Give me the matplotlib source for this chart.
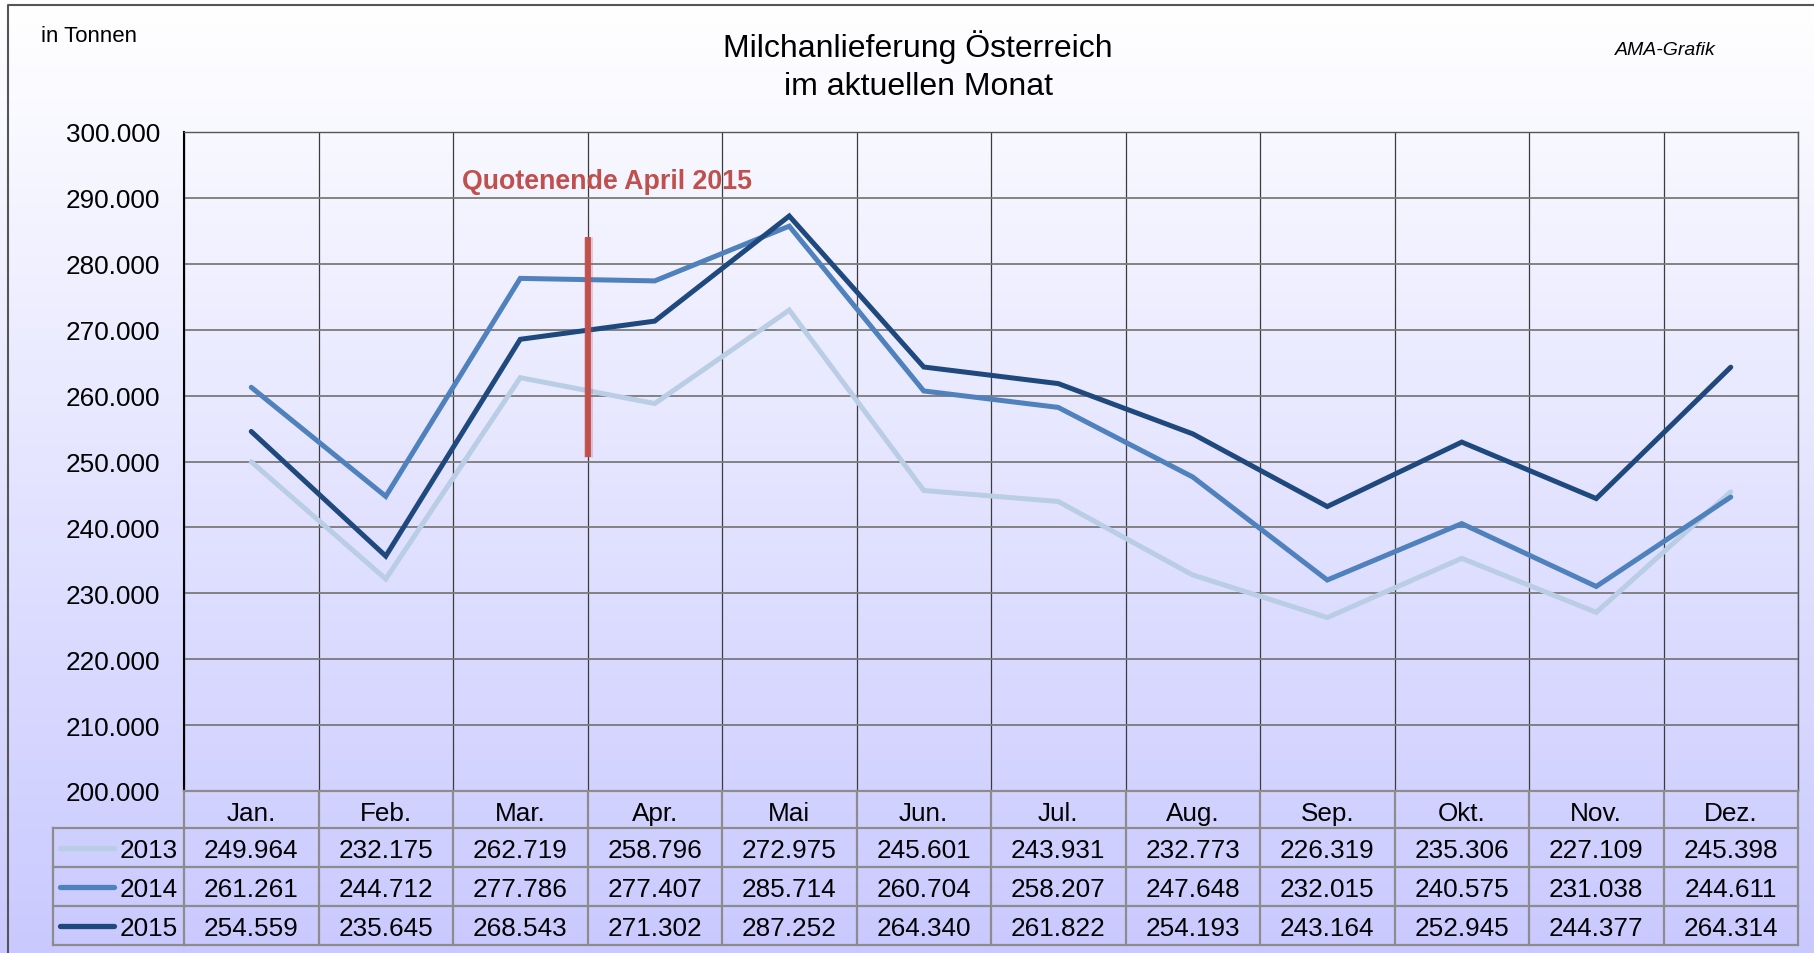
import numpy as np
import matplotlib
matplotlib.use("Agg")
import matplotlib.pyplot as plt
from matplotlib.colors import LinearSegmentedColormap
from matplotlib.transforms import blended_transform_factory

# ---------------- data ----------------
months = ["Jan.", "Feb.", "Mar.", "Apr.", "Mai", "Jun.", "Jul.", "Aug.",
          "Sep.", "Okt.", "Nov.", "Dez."]
years = ["2013", "2014", "2015"]
v2013 = [249964, 232175, 262719, 258796, 272975, 245601, 243931, 232773,
         226319, 235306, 227109, 245398]
v2014 = [261261, 244712, 277786, 277407, 285714, 260704, 258207, 247648,
         232015, 240575, 231038, 244611]
v2015 = [254559, 235645, 268543, 271302, 287252, 264340, 261822, 254193,
         243164, 252945, 244377, 264314]
yticks = list(range(200000, 300001, 10000))
quota_label = "Quotenende April 2015"
quota_range = [250700, 284000]
title1 = "Milchanlieferung Österreich"
title2 = "im aktuellen Monat"
unit_label = "in Tonnen"
source_label = "AMA-Grafik"

series = [v2013, v2014, v2015]
colors = ["#B9CDE5", "#4F81BD", "#1F497D"]


def de(v):
    return f"{v:,}".replace(",", ".")


plt.rcParams["font.family"] = ["Liberation Sans", "DejaVu Sans"]

W, H = 1814, 954
fig = plt.figure(figsize=(W / 100, H / 100), dpi=100)

# background gradient
bg = fig.add_axes([0, 0, 1, 1], zorder=0)
bg.set_xlim(0, W)
bg.set_ylim(H, 0)
bg.axis("off")
cmap = LinearSegmentedColormap.from_list(
    "g", [(0, "#FFFFFF"), (0.05, "#FDFDFF"), (1, "#C9C9FF")])
grad = np.linspace(0, 1, 256)[:, None]
bg.imshow(grad, extent=[0, W, H, 0], cmap=cmap, aspect="auto")
bg.plot([8, 8, W + 5], [H + 5, 6, 6], color="#555555", lw=1.5)

# main axes
ax = fig.add_axes([184 / W, 1 - 792 / H, 1614 / W, 659 / H], zorder=2)
ax.patch.set_alpha(0)
x = np.arange(len(months))
ax.set_xlim(-0.5, len(months) - 0.5)
ax.set_ylim(yticks[0], yticks[-1])
ax.set_yticks(yticks)
ax.set_yticklabels([de(t) for t in yticks])
ax.set_xticks(np.arange(-0.5, len(months), 1))
ax.set_xticklabels([])
ax.tick_params(length=0)
ax.tick_params(axis="y", labelsize=18.8, pad=17.3)
ax.yaxis.grid(True, color="#7a7a7a", lw=1.3)
ax.xaxis.grid(True, color="#3c3c3c", lw=0.9)
ax.set_axisbelow(True)
ax.spines["left"].set_color("black")
ax.spines["left"].set_linewidth(1.5)
for s in ["top", "right"]:
    ax.spines[s].set_color("#555555")
    ax.spines[s].set_linewidth(1.0)
ax.spines["bottom"].set_visible(False)

for vals, c in zip(series, colors):
    ax.plot(x, vals, color=c, lw=3.6, solid_capstyle="round",
            solid_joinstyle="miter", zorder=3)

ax.plot([2.5, 2.5], quota_range, color="#C0504D", lw=6.5, alpha=0.25,
        zorder=4, solid_capstyle="butt")
ax.plot([2.5, 2.5], quota_range, color="#C0504D", lw=4.2, zorder=4,
        solid_capstyle="butt")
ax.text(1.57, 292600, quota_label, color="#C0504D", fontsize=19.3,
        fontweight="bold", va="center", ha="left", zorder=5)

# overlay (pixel coordinates) for texts and table
ov = fig.add_axes([0, 0, 1, 1], zorder=3)
ov.set_xlim(0, W)
ov.set_ylim(H, 0)
ov.axis("off")
ov.patch.set_alpha(0)

ov.text(41, 41.5, unit_label, fontsize=16, va="baseline", ha="left")
ov.text(918, 57, title1, fontsize=23, va="baseline", ha="center")
ov.text(918, 95, title2, fontsize=23, va="baseline", ha="center")
ov.text(1615, 55, source_label, fontsize=14, style="italic",
        va="baseline", ha="left")

# table: columns follow the chart's category scale
tr = blended_transform_factory(ax.transData, ov.transData)
rows = [792, 829, 868, 907, 946]
gcol = "#8c8c8c"
glw = 1.6
x0, x1 = -0.5, len(months) - 0.5
leg_left = 53

# horizontal lines
ov.plot([x0, x1], [rows[0], rows[0]], transform=tr, color=gcol, lw=glw)
for r in rows[1:]:
    ov.plot([x0, x1], [r, r], transform=tr, color=gcol, lw=glw)
    ov.plot([leg_left, 185], [r, r], color=gcol, lw=glw)
# vertical lines
for b in np.arange(x0, x1 + 0.01, 1):
    ov.plot([b, b], [rows[0], rows[-1]], transform=tr, color=gcol, lw=glw)
ov.plot([leg_left, leg_left], [rows[1], rows[-1]], color=gcol, lw=glw)

fs = 18.8
for i, m in enumerate(months):
    ov.text(i, rows[1] - 8, m, transform=tr, fontsize=fs, ha="center",
            va="baseline")
for k, (yr, vals, c) in enumerate(zip(years, series, colors)):
    top, bot = rows[k + 1], rows[k + 2]
    yc = (top + bot) / 2
    ov.plot([60, 114], [yc, yc], color=c, lw=3.8, solid_capstyle="round")
    ov.text(178, bot - 9.5, yr, fontsize=fs, ha="right", va="baseline")
    for i, v in enumerate(vals):
        ov.text(i, bot - 9.5, de(v), transform=tr, fontsize=fs,
                ha="center", va="baseline")

fig.savefig("out.png", dpi=100)
